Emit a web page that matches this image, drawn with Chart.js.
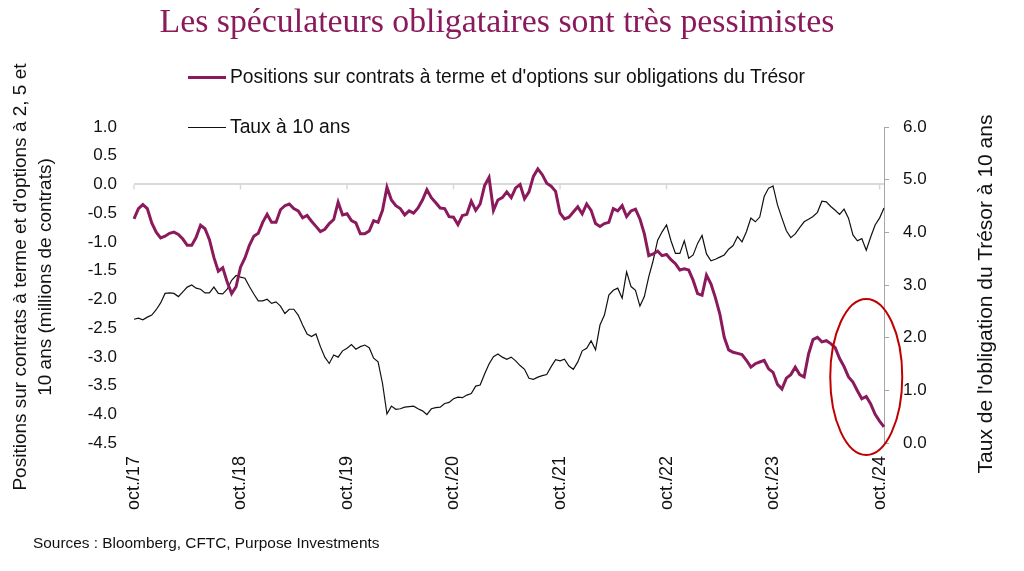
<!DOCTYPE html>
<html lang="fr">
<head>
<meta charset="utf-8">
<script src="https://cdn.jsdelivr.net/npm/chart.js@4.4.1/dist/chart.umd.min.js"></script>
<style>
  body { margin: 0; background: #fff; }
  #wrap { position: relative; width: 1024px; height: 571px; font-family: 'Liberation Sans', Arial, sans-serif; color: #111; }
  #chart { position: absolute; left: 0; top: 0; }
  .title { position: absolute; left: 0; top: 0; width: 994px; text-align: center; font-family: 'Liberation Serif', 'Times New Roman', serif; font-size: 33.8px; line-height: 42px; color: #8b1a5c; }
  .leg { position: absolute; left: 188px; height: 24px; line-height: 24px; font-size: 19.3px; white-space: nowrap; }
  .leg .sw { display: inline-block; width: 38px; vertical-align: middle; margin-right: 4px; }
  .rot { position: absolute; text-align: center; white-space: nowrap; transform: rotate(-90deg); }
  .src { position: absolute; left: 33px; top: 534px; font-size: 15.4px; }
</style>
</head>
<body>
<div id="wrap">
  <canvas id="chart" width="1024" height="571"></canvas>
  <div class="title">Les spéculateurs obligataires sont très pessimistes</div>
  <div class="leg" style="top:65px"><span class="sw" style="height:3px;background:#8b1a5c"></span>Positions sur contrats à terme et d'options sur obligations du Trésor</div>
  <div class="leg" style="top:115px"><span class="sw" style="height:1px;background:#111"></span>Taux à 10 ans</div>
  <div class="rot" style="left:-230px;top:265px;width:500px;height:24px;line-height:24px;font-size:19px">Positions sur contrats à terme et d'options à 2, 5 et</div>
  <div class="rot" style="left:-205px;top:265px;width:500px;height:24px;line-height:24px;font-size:19px">10 ans (millions de contrats)</div>
  <div class="rot" style="left:765px;top:281px;width:440px;height:26px;line-height:26px;font-size:21px">Taux de l'obligation du Trésor à 10 ans</div>
  <div class="src">Sources : Bloomberg, CFTC, Purpose Investments</div>
</div>
<script>
// Un point le 1er et le 15 de chaque mois, oct. 2017 -> oct. 2024
const months = ['janv.', 'févr.', 'mars', 'avr.', 'mai', 'juin', 'juil.', 'août', 'sept.', 'oct.', 'nov.', 'déc.'];
const dates = [];
for (let m = 0; m < 85; m++) {
    const label = months[(9 + m) % 12] + '/' + (17 + Math.floor((9 + m) / 12));
    dates.push('1 ' + label, '15 ' + label);
}
const tickLabels = ['oct./17', 'oct./18', 'oct./19', 'oct./20', 'oct./21', 'oct./22', 'oct./23', 'oct./24'];

// Positions nettes (millions de contrats), axe de gauche
const positions = [
    -0.60, -0.42, -0.35, -0.42, -0.67, -0.83, -0.93, -0.90, -0.85, -0.83, -0.87, -0.95,
    -1.06, -1.06, -0.92, -0.71, -0.77, -0.96, -1.27, -1.51, -1.45, -1.70, -1.90, -1.78,
    -1.44, -1.28, -1.06, -0.90, -0.85, -0.66, -0.52, -0.66, -0.66, -0.44, -0.37, -0.34,
    -0.42, -0.46, -0.58, -0.54, -0.64, -0.73, -0.82, -0.78, -0.68, -0.61, -0.31, -0.53,
    -0.51, -0.63, -0.67, -0.86, -0.86, -0.81, -0.63, -0.66, -0.45, -0.05, -0.27, -0.37,
    -0.42, -0.53, -0.46, -0.50, -0.41, -0.27, -0.09, -0.23, -0.32, -0.41, -0.42, -0.56,
    -0.57, -0.70, -0.54, -0.52, -0.29, -0.45, -0.34, -0.02, 0.12, -0.45, -0.27, -0.23,
    -0.13, -0.23, -0.06, 0.00, -0.25, -0.13, 0.14, 0.27, 0.17, 0.02, -0.03, -0.12,
    -0.50, -0.60, -0.57, -0.48, -0.39, -0.51, -0.34, -0.45, -0.68, -0.73, -0.68, -0.66,
    -0.42, -0.46, -0.37, -0.56, -0.46, -0.43, -0.60, -0.86, -1.24, -1.21, -1.16, -1.24,
    -1.22, -1.31, -1.38, -1.49, -1.47, -1.49, -1.67, -1.90, -1.93, -1.58, -1.73, -1.97,
    -2.25, -2.66, -2.88, -2.92, -2.94, -2.96, -3.06, -3.18, -3.12, -3.09, -3.06, -3.21,
    -3.27, -3.48, -3.56, -3.37, -3.31, -3.18, -3.31, -3.35, -2.95, -2.70, -2.66, -2.74,
    -2.72, -2.77, -2.84, -3.03, -3.17, -3.35, -3.44, -3.59, -3.73, -3.69, -3.82, -4.00,
    -4.12, -4.22
];

// Taux à 10 ans (%), axe de droite
const taux10 = [
    2.35, 2.37, 2.34, 2.39, 2.43, 2.53, 2.66, 2.84, 2.85, 2.84, 2.78, 2.87,
    2.96, 3.00, 2.94, 2.92, 2.85, 2.85, 2.96, 2.84, 2.83, 2.92, 3.09, 3.18,
    3.15, 3.13, 2.97, 2.83, 2.70, 2.70, 2.73, 2.65, 2.68, 2.60, 2.46, 2.54,
    2.54, 2.43, 2.24, 2.07, 2.02, 2.07, 1.83, 1.63, 1.51, 1.67, 1.63, 1.75,
    1.80, 1.87, 1.78, 1.83, 1.86, 1.81, 1.61, 1.54, 1.13, 0.55, 0.70, 0.64,
    0.65, 0.68, 0.69, 0.70, 0.65, 0.61, 0.54, 0.65, 0.67, 0.68, 0.75, 0.77,
    0.84, 0.87, 0.86, 0.91, 0.94, 1.08, 1.10, 1.31, 1.50, 1.64, 1.69, 1.63,
    1.59, 1.63, 1.56, 1.47, 1.40, 1.23, 1.21, 1.25, 1.28, 1.30, 1.45, 1.58,
    1.56, 1.59, 1.46, 1.40, 1.54, 1.75, 1.80, 1.94, 1.77, 2.24, 2.43, 2.81,
    2.90, 2.94, 2.75, 3.25, 2.97, 2.90, 2.60, 2.78, 3.16, 3.47, 3.85, 4.01,
    4.14, 3.84, 3.60, 3.60, 3.84, 3.51, 3.57, 3.79, 3.94, 3.59, 3.46, 3.49,
    3.53, 3.57, 3.68, 3.75, 3.92, 3.82, 4.01, 4.27, 4.20, 4.29, 4.68, 4.84,
    4.88, 4.52, 4.27, 4.03, 3.90, 3.97, 4.09, 4.20, 4.25, 4.30, 4.38, 4.59,
    4.58, 4.49, 4.42, 4.34, 4.44, 4.27, 3.95, 3.84, 3.88, 3.66, 3.91, 4.14,
    4.27, 4.46
];

// Ellipse rouge autour de la fin de la série (index, valeur sur l'axe de gauche)
const circleAt = { index: 165, value: -3.35, rx: 36, ry: 78 };

const PURPLE = '#8b1a5c';
const tickFont = { family: "'Liberation Sans', Arial, sans-serif", size: 17 };

function isYearTick(i) {
    const d = dates[i];
    return d.startsWith('1 ') && tickLabels.includes(d.slice(2));
}

// petites graduations sous la ligne du zéro + ellipse
const extras = {
    id: 'extras',
    beforeDatasetsDraw(chart) {
        const { ctx, scales: { x, y } } = chart;
        const y0 = y.getPixelForValue(0);
        ctx.save();
        ctx.strokeStyle = '#d9d9d9';
        ctx.lineWidth = 1.5;
        ctx.beginPath();
        dates.forEach((d, i) => {
            if (!isYearTick(i)) return;
            const px = x.getPixelForValue(i);
            ctx.moveTo(px, y0);
            ctx.lineTo(px, y0 + 5);
        });
        ctx.stroke();
        ctx.restore();
    },
    afterDatasetsDraw(chart) {
        const { ctx, scales: { x, y } } = chart;
        ctx.save();
        ctx.strokeStyle = '#c00000';
        ctx.lineWidth = 2;
        ctx.beginPath();
        ctx.ellipse(x.getPixelForValue(circleAt.index), y.getPixelForValue(circleAt.value), circleAt.rx, circleAt.ry, 0, 0, Math.PI * 2);
        ctx.stroke();
        ctx.restore();
    }
};

const ctx = document.getElementById('chart');
new Chart(ctx, {
    type: 'line',
    data: {
        labels: dates,
        datasets: [{
            label: "Positions sur contrats à terme et d'options sur obligations du Trésor",
            data: positions,
            yAxisID: 'y',
            borderColor: PURPLE,
            borderWidth: 3,
            pointRadius: 0,
            tension: 0
        }, {
            label: 'Taux à 10 ans',
            data: taux10,
            yAxisID: 'y2',
            borderColor: '#111',
            borderWidth: 1.2,
            pointRadius: 0,
            tension: 0
        }]
    },
    options: {
        responsive: false,
        animation: false,
        layout: { padding: { top: 127, left: 64, right: 40, bottom: 40 } },
        plugins: {
            legend: { display: false },
            tooltip: { enabled: false }
        },
        scales: {
            x: {
                grid: { display: false },
                border: { display: false },
                ticks: {
                    autoSkip: false,
                    minRotation: 90,
                    maxRotation: 90,
                    padding: 5,
                    color: '#111',
                    font: { family: tickFont.family, size: 18 },
                    callback: (v, i) => isYearTick(i) ? dates[i].slice(2) : null
                },
                afterFit: s => { s.height = 88; }
            },
            y: {
                position: 'left',
                min: -4.5,
                max: 1,
                border: { display: false },
                grid: {
                    drawTicks: false,
                    lineWidth: 2,
                    color: c => c.tick && c.tick.value === 0 ? '#d9d9d9' : 'rgba(0,0,0,0)'
                },
                ticks: {
                    stepSize: 0.5,
                    padding: 17,
                    color: '#111',
                    font: tickFont,
                    callback: v => v.toFixed(1)
                },
                afterFit: s => { s.width = 70; }
            },
            y2: {
                position: 'right',
                min: 0,
                max: 6,
                border: { display: true, color: '#a6a6a6' },
                grid: { drawOnChartArea: false, tickLength: 5, color: '#a6a6a6' },
                ticks: {
                    stepSize: 1,
                    padding: 14,
                    color: '#111',
                    font: tickFont,
                    callback: v => v.toFixed(1)
                },
                afterFit: s => { s.width = 100; }
            }
        }
    },
    plugins: [extras]
});
</script>
</body>
</html>
